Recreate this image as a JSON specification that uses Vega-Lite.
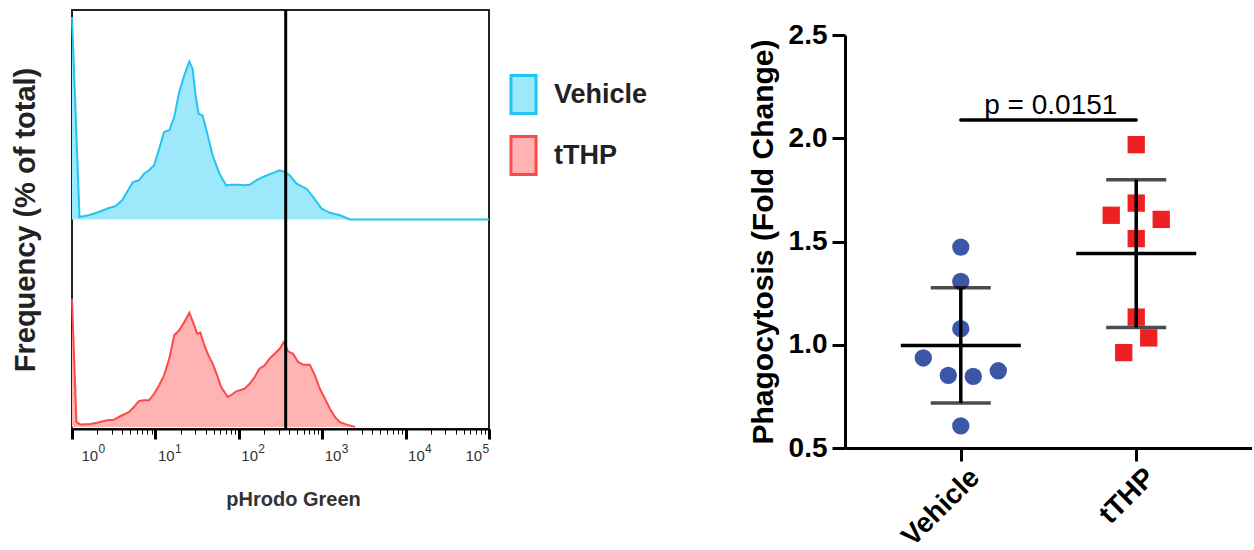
{
  "$schema": "https://vega.github.io/schema/vega-lite/v6.json",
  "padding": {"left": 10, "top": 7, "right": 0, "bottom": 0},
  "bounds": "flush",
  "spacing": 356,
  "resolve": {
    "scale": {"shape": "independent", "color": "independent", "fill": "independent", "stroke": "independent"},
    "legend": {"shape": "independent", "color": "independent", "fill": "independent", "stroke": "independent"}
  },
  "config": {
    "font": "Liberation Sans",
    "axis": {"grid": false, "domainColor": "black", "tickColor": "black"},
    "legend": {
      "symbolType": "M-0.66,-1H0.66V1H-0.66Z",
      "symbolSize": 1444,
      "symbolStrokeWidth": 3,
      "symbolOpacity": 1,
      "labelFontSize": 27,
      "labelFontWeight": "bold",
      "labelColor": "#222",
      "labelOffset": 10,
      "rowPadding": 10
    }
  },
  "datasets": {
    "hist": [
      {"sample": "Vehicle", "fl": 1, "freq": 96.7},
      {"sample": "Vehicle", "fl": 1.23, "freq": 1.2},
      {"sample": "Vehicle", "fl": 1.59, "freq": 2.0},
      {"sample": "Vehicle", "fl": 2.10, "freq": 3.6},
      {"sample": "Vehicle", "fl": 2.77, "freq": 5.5},
      {"sample": "Vehicle", "fl": 3.33, "freq": 6.4},
      {"sample": "Vehicle", "fl": 4.00, "freq": 9.2},
      {"sample": "Vehicle", "fl": 4.82, "freq": 14.7},
      {"sample": "Vehicle", "fl": 5.38, "freq": 17.9},
      {"sample": "Vehicle", "fl": 6.37, "freq": 18.7},
      {"sample": "Vehicle", "fl": 7.31, "freq": 21.9},
      {"sample": "Vehicle", "fl": 8.39, "freq": 23.5},
      {"sample": "Vehicle", "fl": 9.64, "freq": 25.9},
      {"sample": "Vehicle", "fl": 11.1, "freq": 33.8},
      {"sample": "Vehicle", "fl": 12.7, "freq": 41.8},
      {"sample": "Vehicle", "fl": 14.7, "freq": 42.6},
      {"sample": "Vehicle", "fl": 16.8, "freq": 48.9},
      {"sample": "Vehicle", "fl": 19.3, "freq": 60.9},
      {"sample": "Vehicle", "fl": 22.2, "freq": 68.8},
      {"sample": "Vehicle", "fl": 25.5, "freq": 75.5},
      {"sample": "Vehicle", "fl": 27.9, "freq": 72.0},
      {"sample": "Vehicle", "fl": 30.7, "freq": 57.7},
      {"sample": "Vehicle", "fl": 33.0, "freq": 50.5},
      {"sample": "Vehicle", "fl": 36.8, "freq": 49.7},
      {"sample": "Vehicle", "fl": 42.4, "freq": 40.2},
      {"sample": "Vehicle", "fl": 48.6, "freq": 30.6},
      {"sample": "Vehicle", "fl": 58.5, "freq": 21.9},
      {"sample": "Vehicle", "fl": 70.5, "freq": 16.3},
      {"sample": "Vehicle", "fl": 80.9, "freq": 16.6},
      {"sample": "Vehicle", "fl": 102, "freq": 16.6},
      {"sample": "Vehicle", "fl": 117, "freq": 16.3},
      {"sample": "Vehicle", "fl": 135, "freq": 16.6},
      {"sample": "Vehicle", "fl": 162, "freq": 18.7},
      {"sample": "Vehicle", "fl": 195, "freq": 20.3},
      {"sample": "Vehicle", "fl": 245, "freq": 21.9},
      {"sample": "Vehicle", "fl": 309, "freq": 23.5},
      {"sample": "Vehicle", "fl": 356, "freq": 22.7},
      {"sample": "Vehicle", "fl": 408, "freq": 21.1},
      {"sample": "Vehicle", "fl": 492, "freq": 17.1},
      {"sample": "Vehicle", "fl": 649, "freq": 14.7},
      {"sample": "Vehicle", "fl": 780, "freq": 10.7},
      {"sample": "Vehicle", "fl": 984, "freq": 5.2},
      {"sample": "Vehicle", "fl": 1239, "freq": 3.2},
      {"sample": "Vehicle", "fl": 1633, "freq": 2.0},
      {"sample": "Vehicle", "fl": 2153, "freq": 0},
      {"sample": "Vehicle", "fl": 100000, "freq": 0},
      {"sample": "tTHP", "fl": 1, "freq": 61.2},
      {"sample": "tTHP", "fl": 1.13, "freq": 2.3},
      {"sample": "tTHP", "fl": 1.26, "freq": 1.1},
      {"sample": "tTHP", "fl": 1.67, "freq": 1.4},
      {"sample": "tTHP", "fl": 2.00, "freq": 2.0},
      {"sample": "tTHP", "fl": 2.64, "freq": 3.2},
      {"sample": "tTHP", "fl": 3.18, "freq": 3.4},
      {"sample": "tTHP", "fl": 3.83, "freq": 5.2},
      {"sample": "tTHP", "fl": 4.82, "freq": 7.1},
      {"sample": "tTHP", "fl": 5.53, "freq": 9.5},
      {"sample": "tTHP", "fl": 6.37, "freq": 12.4},
      {"sample": "tTHP", "fl": 7.31, "freq": 12.7},
      {"sample": "tTHP", "fl": 8.39, "freq": 12.7},
      {"sample": "tTHP", "fl": 9.64, "freq": 15.8},
      {"sample": "tTHP", "fl": 11.1, "freq": 19.9},
      {"sample": "tTHP", "fl": 12.7, "freq": 24.6},
      {"sample": "tTHP", "fl": 14.7, "freq": 32.6},
      {"sample": "tTHP", "fl": 16.8, "freq": 43.7},
      {"sample": "tTHP", "fl": 19.3, "freq": 46.1},
      {"sample": "tTHP", "fl": 22.2, "freq": 50.1},
      {"sample": "tTHP", "fl": 25.5, "freq": 54.5},
      {"sample": "tTHP", "fl": 29.2, "freq": 48.5},
      {"sample": "tTHP", "fl": 31.6, "freq": 44.5},
      {"sample": "tTHP", "fl": 34.6, "freq": 45.0},
      {"sample": "tTHP", "fl": 38.6, "freq": 39.0},
      {"sample": "tTHP", "fl": 43.2, "freq": 34.2},
      {"sample": "tTHP", "fl": 48.6, "freq": 30.2},
      {"sample": "tTHP", "fl": 55.0, "freq": 24.6},
      {"sample": "tTHP", "fl": 61.4, "freq": 19.0},
      {"sample": "tTHP", "fl": 73.6, "freq": 14.3},
      {"sample": "tTHP", "fl": 80.9, "freq": 15.1},
      {"sample": "tTHP", "fl": 93.1, "freq": 17.0},
      {"sample": "tTHP", "fl": 117, "freq": 18.2},
      {"sample": "tTHP", "fl": 135, "freq": 20.6},
      {"sample": "tTHP", "fl": 155, "freq": 23.8},
      {"sample": "tTHP", "fl": 177, "freq": 27.8},
      {"sample": "tTHP", "fl": 204, "freq": 29.4},
      {"sample": "tTHP", "fl": 234, "freq": 32.6},
      {"sample": "tTHP", "fl": 269, "freq": 34.9},
      {"sample": "tTHP", "fl": 309, "freq": 37.3},
      {"sample": "tTHP", "fl": 346, "freq": 40.5},
      {"sample": "tTHP", "fl": 389, "freq": 36.1},
      {"sample": "tTHP", "fl": 448, "freq": 34.9},
      {"sample": "tTHP", "fl": 514, "freq": 31.0},
      {"sample": "tTHP", "fl": 590, "freq": 29.7},
      {"sample": "tTHP", "fl": 711, "freq": 29.7},
      {"sample": "tTHP", "fl": 817, "freq": 24.6},
      {"sample": "tTHP", "fl": 938, "freq": 18.2},
      {"sample": "tTHP", "fl": 1079, "freq": 13.5},
      {"sample": "tTHP", "fl": 1239, "freq": 8.7},
      {"sample": "tTHP", "fl": 1422, "freq": 4.7},
      {"sample": "tTHP", "fl": 1633, "freq": 2.3},
      {"sample": "tTHP", "fl": 1968, "freq": 1.1},
      {"sample": "tTHP", "fl": 2477, "freq": 0}
    ],
    "gate": [{"gate": 365}],
    "cells": [
      {"group": "Vehicle", "slot": -3, "fold": 0.936},
      {"group": "Vehicle", "slot": -1, "fold": 0.852},
      {"group": "Vehicle", "slot": 1, "fold": 0.847},
      {"group": "Vehicle", "slot": 3, "fold": 0.874},
      {"group": "Vehicle", "slot": 0, "fold": 1.473},
      {"group": "Vehicle", "slot": 0, "fold": 1.307},
      {"group": "Vehicle", "slot": 0, "fold": 1.078},
      {"group": "Vehicle", "slot": 0, "fold": 0.607},
      {"group": "tTHP", "slot": -2, "fold": 1.627},
      {"group": "tTHP", "slot": 2, "fold": 1.607},
      {"group": "tTHP", "slot": 0, "fold": 1.969},
      {"group": "tTHP", "slot": 0, "fold": 1.686},
      {"group": "tTHP", "slot": 0, "fold": 1.514},
      {"group": "tTHP", "slot": 0, "fold": 1.134},
      {"group": "tTHP", "slot": 1, "fold": 1.033},
      {"group": "tTHP", "slot": -1, "fold": 0.962}
    ],
    "annot": [{"from": "Vehicle", "to": "tTHP", "y": 2.088, "label": "p = 0.0151"}]
  },
  "hconcat": [
    {
      "width": 417,
      "height": 419,
      "view": {"stroke": "#222", "strokeWidth": 2},
      "data": {"name": "hist"},
      "encoding": {
        "x": {
          "field": "fl",
          "type": "quantitative",
          "scale": {"type": "log", "domain": [1, 100000], "nice": false},
          "axis": {
            "title": "pHrodo Green",
            "orient": "bottom",
            "values": [1,2,3,4,5,6,7,8,9,10,20,30,40,50,60,70,80,90,100,200,300,400,500,600,700,800,900,1000,2000,3000,4000,5000,6000,7000,8000,9000,10000,20000,30000,40000,50000,60000,70000,80000,90000,100000],
            "labelExpr": "indexof([1,10,100,1000,10000,100000], datum.value) >= 0 ? '10' : ''",
            "tickSize": {"condition": {"test": "indexof([1,10,100,1000,10000,100000], datum.value) >= 0", "value": 10}, "value": 5},
            "tickWidth": {"condition": {"test": "indexof([1,10,100,1000,10000,100000], datum.value) >= 0", "value": 3}, "value": 1},
            "labelAlign": "left",
            "labelOffset": {"condition": [{"test": "datum.value == 1", "value": 9}, {"test": "datum.value == 100000", "value": -24}], "value": 2},
            "labelOverlap": false,
            "labelFlush": false,
            "labelBound": false,
            "labelFontSize": 15,
            "labelColor": "#333",
            "labelPadding": 9,
            "domainWidth": 2,
            "titleFontSize": 20,
            "titleFontWeight": "bold",
            "titleColor": "#333",
            "titleX": 221,
            "titleY": 76,
            "titleBaseline": "alphabetic"
          }
        }
      },
      "layer": [
        {
          "transform": [{"filter": "datum.sample === 'Vehicle'"}],
          "encoding": {
            "y": {
              "field": "freq",
              "type": "quantitative",
              "scale": {"domain": [-100, 100], "nice": false, "zero": false},
              "axis": {
                "title": "Frequency (% of total)",
                "titleFontSize": 29,
                "titleFontWeight": "bold",
                "titleColor": "#222",
                "titlePadding": 32,
                "domain": false,
                "ticks": false,
                "labels": false
              }
            }
          },
          "layer": [
            {
              "mark": {"type": "area", "opacity": 1},
              "encoding": {
                "fill": {
                  "field": "sample",
                  "type": "nominal",
                  "scale": {"domain": ["Vehicle", "tTHP"], "range": ["#9de8fb", "#ffb3b3"]},
                  "legend": {
                    "orient": "none", "legendX": 431, "legendY": 64, "title": null,
                    "symbolType": "M-0.66,-1H0.66V1H-0.66Z",
                    "symbolSize": 1444, "symbolStrokeWidth": 3, "symbolOpacity": 1,
                    "labelFontSize": 27, "labelFontWeight": "bold", "labelColor": "#222",
                    "labelOffset": 10, "rowPadding": 10
                  }
                }
              }
            },
            {
              "mark": {"type": "line", "strokeWidth": 2},
              "encoding": {
                "stroke": {
                  "field": "sample",
                  "type": "nominal",
                  "scale": {"domain": ["Vehicle", "tTHP"], "range": ["#22c4f1", "#ff4848"]},
                  "legend": {
                    "orient": "none", "legendX": 431, "legendY": 64, "title": null,
                    "symbolType": "M-0.66,-1H0.66V1H-0.66Z",
                    "symbolSize": 1444, "symbolStrokeWidth": 3, "symbolOpacity": 1,
                    "labelFontSize": 27, "labelFontWeight": "bold", "labelColor": "#222",
                    "labelOffset": 10, "rowPadding": 10
                  }
                }
              }
            }
          ]
        },
        {
          "transform": [{"filter": "datum.sample === 'tTHP'"}],
          "encoding": {
            "x": {"field": "fl", "type": "quantitative", "axis": null},
            "y": {
              "field": "freq",
              "type": "quantitative",
              "scale": {"domain": [-1, 199], "nice": false, "zero": false},
              "axis": null
            }
          },
          "layer": [
            {
              "mark": {"type": "area", "opacity": 1},
              "encoding": {
                "fill": {"field": "sample", "type": "nominal", "scale": {"domain": ["Vehicle", "tTHP"], "range": ["#9de8fb", "#ffb3b3"]}, "legend": null}
              }
            },
            {
              "mark": {"type": "line", "strokeWidth": 2},
              "encoding": {
                "stroke": {"field": "sample", "type": "nominal", "scale": {"domain": ["Vehicle", "tTHP"], "range": ["#22c4f1", "#ff4848"]}, "legend": null}
              }
            }
          ]
        },
        {
          "data": {"name": "gate"},
          "mark": {"type": "rule", "strokeWidth": 3, "color": "black"},
          "encoding": {
            "x": {
              "field": "gate",
              "type": "quantitative",
              "axis": {
                "orient": "bottom",
                "title": null,
                "domain": false,
                "ticks": false,
                "values": [1, 10, 100, 1000, 10000, 100000],
                "labelExpr": "round(log(datum.value)/LN10) + ''",
                "labelAlign": "left",
                "labelOffset": {"condition": [{"test": "datum.value == 1", "value": 26}, {"test": "datum.value == 100000", "value": -7}], "value": 19},
                "labelOverlap": false,
                "labelFlush": false,
                "labelBound": false,
                "labelFontSize": 12,
                "labelColor": "#333",
                "labelPadding": 14
              }
            }
          }
        }
      ],
      "resolve": {"scale": {"y": "independent"}, "axis": {"x": "independent"}}
    },
    {
      "width": 407,
      "height": 438,
      "view": {"stroke": null},
      "data": {"name": "cells"},
      "encoding": {
        "x": {
          "field": "group",
          "type": "nominal",
          "scale": {"type": "point", "domain": ["Vehicle", "tTHP"], "padding": 0.66},
          "axis": {
            "title": null,
            "labelAngle": -45,
            "labelAlign": "right",
            "labelBaseline": "middle",
            "labelFontSize": 28,
            "labelFontWeight": "bold",
            "labelColor": "black",
            "labelPadding": 12,
            "labelOffset": 14,
            "tickSize": 13,
            "tickWidth": 3,
            "domainWidth": 3
          }
        }
      },
      "layer": [
        {
          "mark": {"type": "point", "filled": true, "opacity": 1, "size": 300},
          "encoding": {
            "xOffset": {"field": "slot", "type": "quantitative", "scale": {"domain": [-1, 1], "range": [-12.5, 12.5]}},
            "y": {
              "field": "fold",
              "type": "quantitative",
              "title": "Phagocytosis (Fold Change)",
              "scale": {"domain": [0.5, 2.5], "range": [438, 25], "nice": false, "zero": false},
              "axis": {
                "values": [0.5, 1, 1.5, 2, 2.5],
                "format": ".1f",
                "titleFontSize": 30,
                "titleFontWeight": "bold",
                "titleColor": "black",
                "titlePadding": 10,
                "labelFontSize": 28,
                "labelFontWeight": "bold",
                "labelColor": "black",
                "labelPadding": 5,
                "tickSize": 13,
                "tickWidth": 3,
                "domainWidth": 3
              }
            },
            "color": {"field": "group", "type": "nominal", "scale": {"domain": ["Vehicle", "tTHP"], "range": ["#3a56a5", "#ed2024"]}, "legend": null},
            "shape": {"field": "group", "type": "nominal", "scale": {"domain": ["Vehicle", "tTHP"], "range": ["circle", "square"]}, "legend": null}
          }
        },
        {
          "mark": {"type": "tick", "size": 120, "thickness": 3.5, "color": "black"},
          "encoding": {"y": {"aggregate": "mean", "field": "fold", "type": "quantitative", "title": "Phagocytosis (Fold Change)"}}
        },
        {
          "mark": {"type": "errorbar", "extent": "stdev", "ticks": true, "size": 60, "thickness": 3.5, "color": "black"},
          "encoding": {"y": {"field": "fold", "type": "quantitative", "title": "Phagocytosis (Fold Change)"}}
        },
        {
          "data": {"name": "annot"},
          "mark": {"type": "rule", "strokeWidth": 3.5, "strokeCap": "round", "color": "black"},
          "encoding": {
            "x": {"field": "from", "type": "nominal"},
            "x2": {"field": "to"},
            "y": {"field": "y", "type": "quantitative", "title": "Phagocytosis (Fold Change)"}
          }
        },
        {
          "data": {"name": "annot"},
          "mark": {"type": "text", "fontSize": 28, "align": "center", "baseline": "alphabetic", "dx": 90, "dy": -6, "color": "black"},
          "encoding": {
            "x": {"field": "from", "type": "nominal"},
            "y": {"field": "y", "type": "quantitative", "title": "Phagocytosis (Fold Change)"},
            "text": {"field": "label"}
          }
        }
      ]
    }
  ]
}
